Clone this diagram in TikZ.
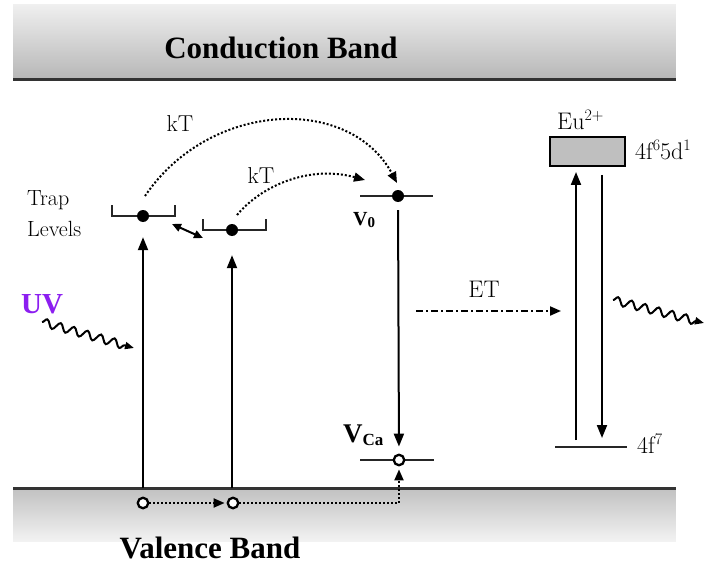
\documentclass[tikz,border=0pt]{standalone}
\usepackage{fontspec}
\newfontfamily\tnr{Liberation Serif}
\usetikzlibrary{arrows.meta,decorations.pathmorphing}
\definecolor{uvc}{RGB}{140,30,240}
\newcommand{\sz}[1]{\fontsize{#1}{#1}\selectfont}
\newcommand{\upsc}[2]{\raisebox{#1}{\sz{16}#2}}
\begin{document}
\begin{tikzpicture}[x=1pt,y=-1pt,
 lvl/.style={line width=2.5pt, black!85},
 brk/.style={line width=2pt, black!85},
 arr/.style={line width=2pt, -{Triangle[length=13pt,width=10pt]}},
 dotarr/.style={line width=2pt, dash pattern=on 2pt off 2pt, -{Triangle[length=11pt,width=9pt]}},
 etarr/.style={line width=2pt, dash pattern=on 7pt off 3pt on 2pt off 3pt, -{Triangle[length=11pt,width=9pt]}},
 dblarr/.style={line width=2pt, {Triangle[length=9pt,width=8pt]}-{Triangle[length=9pt,width=8pt]}},
 edot/.style={circle, fill=black, inner sep=0pt, minimum size=12pt},
 hole/.style={circle, draw=black, line width=2.3pt, fill=white, inner sep=0pt, minimum size=10.5pt},
 wave/.style={line width=2pt, decorate, decoration={snake, amplitude=4pt, segment length=14pt, post length=8pt}, -{Triangle[length=9pt,width=7pt]}},
 lab/.style={inner sep=0pt, anchor=base},
 labw/.style={inner sep=0pt, anchor=base west},
]
\useasboundingbox (0,0) rectangle (706,564);
% bands (vertical gradients drawn as thin strips)
\foreach \i in {0,...,74} {
  \pgfmathsetmacro\p{6+22*\i/74}
  \fill[black!\p] (13,4+\i) rectangle (676,5.4+\i);
}
\draw[line width=3pt, black!80] (13,80) -- (676,80);
\foreach \i in {0,...,52} {
  \pgfmathsetmacro\p{24-19*\i/52}
  \fill[black!\p] (13,489+\i) rectangle (676,490.4+\i);
}
\draw[line width=3pt, black!80] (13,488) -- (676,488);
\node[lab, font=\tnr\bfseries\sz{31}] (cb) at (281,59) {Conduction Band};
\node[lab, font=\tnr\bfseries\sz{31}] (vb) at (210,558) {Valence Band};
% trap levels
\draw[brk] (112,205) |- (175,216) -- (175,205);
\draw[brk] (203,219) |- (266,230) -- (266,219);
\node[edot] (e1) at (143,216) {};
\node[edot] (e2) at (232,230) {};
\node[labw, align=left, font=\fontsize{22}{31}\selectfont] (tl) at (27,236) {Trap\\Levels};
% V0 level
\draw[lvl] (360,196) -- (433,196);
\node[edot] (e3) at (398,196) {};
\node[labw, font=\tnr\bfseries\sz{20}] (v0l) at (353,225) {V\raisebox{-2pt}{\sz{15}0}};
% VCa level
\draw[lvl] (360,460) -- (434,460);
\node[hole] (vca) at (399,460) {};
\node[labw, font=\tnr\bfseries\sz{27}] (vcal) at (343,442) {V\raisebox{-3pt}{\sz{17}Ca}};
% holes
\node[hole] (h1) at (143,503) {};
\node[hole] (h2) at (233,503) {};
\coordinate (hc) at (399,503);
% excitation arrows
\coordinate (b1) at (143,488);
\coordinate (b2) at (232,488);
\draw[arr, shorten >=15pt] (b1) -- (e1);
\draw[arr, shorten >=19pt] (b2) -- (e2);
% recombination V0 -> VCa
\draw[arr, shorten <=8pt, shorten >=7pt] (e3) -- (vca);
% hole transport
\draw[dotarr, shorten >=2pt] (h1) -- (h2);
\draw[dotarr, shorten >=3pt] (h2) -- (hc) -- (vca);
% thermal release
\coordinate (k1s) at (145,196);
\coordinate (k1e) at (397,183);
\coordinate (k2s) at (237,215);
\coordinate (k2e) at (365,180);
\draw[dotarr] (k1s) .. controls (210,100) and (350,95) .. (k1e);
\draw[dotarr] (k2s) .. controls (262,185) and (310,165) .. (k2e);
\node[lab, font=\sz{23}] (kt1) at (180,132) {kT};
\node[lab, font=\sz{23}] (kt2) at (261,183) {kT};
\coordinate (da) at (172,224);
\coordinate (db) at (203,238);
\draw[dblarr] (da) -- (db);
% UV
\node[labw, font=\tnr\bfseries\sz{29}, text=uvc] (uv) at (21,313) {UV};
\coordinate (uvs) at (42,322);
\coordinate (uve) at (134,348);
\draw[wave] (uvs) -- (uve);
% ET
\coordinate (ets) at (416,311);
\coordinate (ete) at (561,311);
\draw[etarr] (ets) -- (ete);
\node[lab, font=\sz{24}] (et) at (484,297) {ET};
% Eu levels
\node[draw, line width=2pt, fill=black!25, minimum width=75pt, minimum height=29pt, inner sep=0pt] (eu) at (587.5,151.5) {};
\node[labw, font=\sz{24}] (eul) at (557,130) {Eu\upsc{9pt}{2+}};
\node[labw, font=\sz{24}] (eu5d) at (635,160) {4f\upsc{9pt}{6}5d\upsc{9pt}{1}};
\draw[lvl] (555,447) -- (627,447);
\node[labw, font=\sz{24}] (f7) at (637,453) {4f\upsc{9pt}{7}};
\coordinate (g1) at (576,440);
\coordinate (g2) at (576,172);
\coordinate (g3) at (602,175);
\coordinate (g4) at (602,438);
\draw[arr] (g1) -- (g2);
\draw[arr] (g3) -- (g4);
% emission
\coordinate (ems) at (613,300);
\coordinate (eme) at (704,323);
\draw[wave] (ems) -- (eme);
\end{tikzpicture}
\end{document}
